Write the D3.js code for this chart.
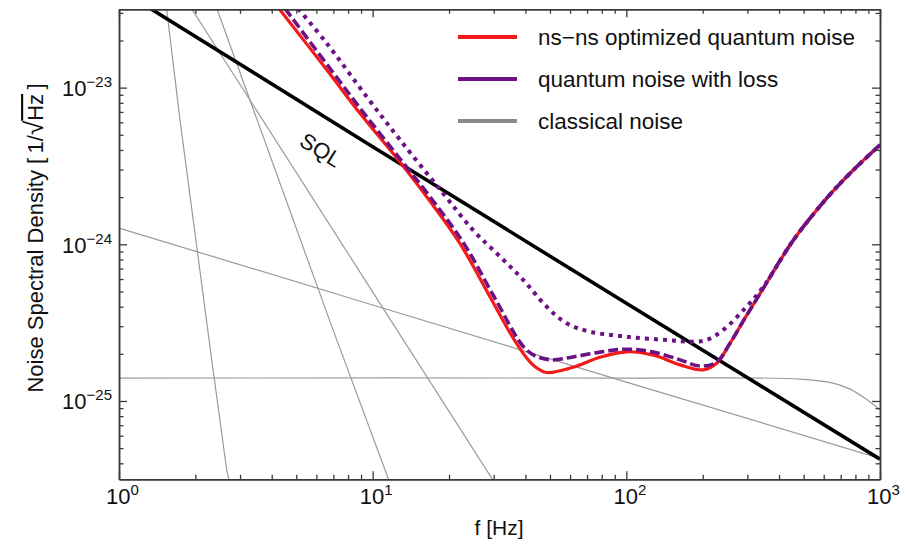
<!DOCTYPE html>
<html>
<head>
<meta charset="utf-8">
<script src="https://cdn.jsdelivr.net/npm/d3@7"></script>
<style>
  body { margin: 0; background: #fff; }
  text { font-family: "Liberation Sans", Arial, Helvetica, sans-serif; fill: #111; }
</style>
</head>
<body>
<svg id="chart"></svg>
<script>
// chart values as [frequency in Hz, noise in 1/sqrt(Hz)]

const optimizedQuantum = [
  [4.27, 3.2e-23], [6.59, 1.30e-23], [8.91, 6.86e-24], [12.62, 3.45e-24], [16.33, 2.01e-24],
  [22.1, 1.01e-24], [29.0, 4.63e-25], [34.8, 2.72e-25], [39.9, 1.94e-25], [43.6, 1.66e-25],
  [48.5, 1.52e-25], [61.6, 1.64e-25], [78.7, 1.90e-25], [100, 2.06e-25], [128, 1.96e-25],
  [163, 1.70e-25], [201, 1.58e-25], [227, 1.74e-25], [256, 2.33e-25], [294, 3.39e-25],
  [337, 4.86e-25], [455, 1.06e-24], [617, 1.97e-24], [762, 2.84e-24], [1000, 4.31e-24]
];

const quantumWithLoss = [
  [4.51, 3.2e-23], [6.85, 1.30e-23], [9.24, 6.86e-24], [12.93, 3.45e-24], [16.83, 2.01e-24],
  [22.9, 1.01e-24], [30.1, 4.63e-25], [39.3, 2.22e-25], [44.3, 1.92e-25], [51.4, 1.83e-25],
  [61.6, 1.91e-25], [78.7, 2.05e-25], [100, 2.14e-25], [128, 2.05e-25], [163, 1.83e-25],
  [195, 1.67e-25], [227, 1.77e-25], [256, 2.33e-25], [294, 3.39e-25], [337, 4.86e-25],
  [455, 1.06e-24], [617, 1.97e-24], [762, 2.84e-24], [1000, 4.31e-24]
];

const quantumWithMoreLoss = [
  [5.08, 3.2e-23], [6.59, 1.92e-23], [9.47, 8.75e-24], [12.82, 4.64e-24], [18.71, 2.17e-24],
  [24.9, 1.23e-24], [31.8, 8.34e-25], [39.3, 5.91e-25], [48.5, 4.00e-25], [58.2, 3.13e-25],
  [71.9, 2.77e-25], [100, 2.57e-25], [144, 2.45e-25], [184, 2.39e-25], [207, 2.45e-25],
  [241, 2.84e-25], [298, 4.00e-25], [347, 5.36e-25], [455, 1.06e-24], [617, 1.97e-24],
  [762, 2.84e-24], [1000, 4.31e-24]
];

const sqlLine = [[1.3, 3.27e-23], [10, 4.2e-24], [100, 4.2e-25], [1000, 4.25e-26]];

// classical noise terms (thin gray)
const flatNoise = [[1, 1.4e-25], [100, 1.4e-25], [484, 1.38e-25], [653, 1.30e-25], [762, 1.19e-25], [881, 1.03e-25], [1000, 8.8e-26]];
const slopeNoise = [[1, 1.27e-24], [10, 4.1e-25], [100, 1.32e-25], [1000, 4.3e-26]];
const steepNoiseA = [[1.54, 3.2e-23], [1.74, 6.2e-24], [2.32, 1.83e-25], [2.66, 3.6e-26], [2.72, 3.1e-26]];
const steepNoiseB = [[2.43, 3.2e-23], [6.79, 3.21e-25], [11.6, 3.1e-26]];
const steepNoiseC = [[1.93, 3.2e-23], [10.7, 4.18e-25], [29.9, 3.1e-26]];

const legendLabels = ["ns\u2212ns optimized quantum noise", "quantum noise with loss", "classical noise"];
const xTickExps = ["0", "1", "2", "3"];
const yTickExps = ["\u221225", "\u221224", "\u221223"];

// layout
const svgWidth = 906, svgHeight = 546;
const margin = {top: 9.3, right: 26, bottom: 66.7, left: 119},
    width = svgWidth - margin.left - margin.right,
    height = svgHeight - margin.top - margin.bottom;

const axisColor = "#3a3a3a";
const red = "#f41a1a", purple = "#6c1285", gray = "#9a9a9a";

const chart = d3.select("#chart")
    .attr("width", svgWidth)
    .attr("height", svgHeight);

const inner = chart.append("g")
    .attr("transform", "translate(" + margin.left + "," + margin.top + ")");

const xScale = d3.scaleLog().domain([1, 1000]).range([0, width]);
const yScale = d3.scaleLog().domain([Math.pow(10, -25.5), Math.pow(10, -22.5)]).range([height, 0]);

// tick values
const xMajor = xTickExps.map(e => Math.pow(10, +e));
const xMinor = [];
[1, 10, 100].forEach(d => { for (let k = 2; k <= 9; k++) xMinor.push(d * k); });
const yMajor = yTickExps.map(e => Math.pow(10, +e.replace("\u2212", "-")));
const yMinor = [];
[-26, -25, -24, -23].forEach(p => {
    for (let k = 2; k <= 9; k++) {
        const v = k * Math.pow(10, p);
        if (v > yScale.domain()[0] && v < yScale.domain()[1]) yMinor.push(v);
    }
});

inner.append("clipPath").attr("id", "plotClip")
    .append("rect").attr("width", width).attr("height", height);

const plot = inner.append("g").attr("clip-path", "url(#plotClip)");

const straight = d3.line()
    .x(d => xScale(d[0]))
    .y(d => yScale(d[1]));

const smooth = d3.line()
    .x(d => xScale(d[0]))
    .y(d => yScale(d[1]))
    .curve(d3.curveCatmullRom.alpha(0.5));

// classical noise
[flatNoise, slopeNoise, steepNoiseA, steepNoiseB, steepNoiseC].forEach(s => {
    plot.append("path")
        .datum(s)
        .attr("d", s === flatNoise ? smooth : straight)
        .attr("fill", "none")
        .attr("stroke", gray)
        .attr("stroke-width", 1.2);
});

// standard quantum limit
plot.append("path")
    .datum(sqlLine)
    .attr("d", straight)
    .attr("fill", "none")
    .attr("stroke", "#000")
    .attr("stroke-width", 3.6);

// quantum curves
plot.append("path")
    .datum(optimizedQuantum)
    .attr("d", smooth)
    .attr("fill", "none")
    .attr("stroke", red)
    .attr("stroke-width", 3.2);

plot.append("path")
    .datum(quantumWithLoss)
    .attr("d", smooth)
    .attr("fill", "none")
    .attr("stroke", purple)
    .attr("stroke-width", 3.6)
    .attr("stroke-dasharray", "10,4");

plot.append("path")
    .datum(quantumWithMoreLoss)
    .attr("d", smooth)
    .attr("fill", "none")
    .attr("stroke", purple)
    .attr("stroke-width", 4)
    .attr("stroke-dasharray", "4,5");

// SQL label along the line
plot.append("text")
    .attr("transform", "translate(" + xScale(6.24) + "," + yScale(4.0e-24) + ") rotate(32)")
    .attr("text-anchor", "middle")
    .attr("dy", "0.35em")
    .attr("font-size", 22)
    .text("SQL");

// axes: major and minor ticks pointing inward on all four sides
function styleAxis(g) {
    g.select(".domain").attr("stroke", axisColor).attr("stroke-width", 1.5);
    g.selectAll(".tick line").attr("stroke", axisColor).attr("stroke-width", 1.3);
    return g;
}

function addAxis(axisFn, scale, values, size, transform) {
    const ax = axisFn(scale).tickValues(values).tickSize(-size).tickSizeOuter(0).tickFormat("");
    const g = inner.append("g").attr("transform", transform).call(ax);
    styleAxis(g);
    return g;
}

addAxis(d3.axisBottom, xScale, xMinor, 4.5, "translate(0," + height + ")");
const xAxisG = addAxis(d3.axisBottom, xScale, xMajor, 8, "translate(0," + height + ")");
addAxis(d3.axisTop, xScale, xMinor, 4.5, "translate(0,0)");
addAxis(d3.axisTop, xScale, xMajor, 8, "translate(0,0)");
addAxis(d3.axisLeft, yScale, yMinor, 4.5, "translate(0,0)");
const yAxisG = addAxis(d3.axisLeft, yScale, yMajor, 8, "translate(0,0)");
addAxis(d3.axisRight, yScale, yMinor, 4.5, "translate(" + width + ",0)");
addAxis(d3.axisRight, yScale, yMajor, 8, "translate(" + width + ",0)");

// power-of-ten tick labels
xAxisG.selectAll(".tick text").each(function(d, i) {
    const t = d3.select(this)
        .attr("y", 17)
        .attr("dy", "0.35em")
        .attr("x", 3)
        .attr("text-anchor", "middle")
        .attr("font-size", 22)
        .attr("fill", "#111")
        .text(null);
    t.append("tspan").text("10");
    t.append("tspan").attr("dy", -9).attr("font-size", 15).text(xTickExps[i]);
});

yAxisG.selectAll(".tick text").each(function(d, i) {
    const t = d3.select(this)
        .attr("x", -7)
        .attr("dy", "0.35em")
        .attr("text-anchor", "end")
        .attr("font-size", 22)
        .attr("fill", "#111")
        .text(null);
    t.append("tspan").text("10");
    t.append("tspan").attr("dy", -9).attr("font-size", 15).text(yTickExps[i]);
});

// axis titles
chart.append("text")
    .attr("x", 499)
    .attr("y", 535)
    .attr("text-anchor", "middle")
    .attr("font-size", 21)
    .text("f [Hz]");

const yTitle = chart.append("text")
    .attr("transform", "translate(43,238) rotate(-90)")
    .attr("text-anchor", "middle")
    .attr("font-size", 22);
yTitle.append("tspan").text("Noise Spectral Density [\u20091/");
yTitle.append("tspan").attr("font-size", 26).text("\u221A");
yTitle.append("tspan").style("text-decoration", "overline").text("Hz");
yTitle.append("tspan").text("\u2009]");

// legend
const legendColors = [red, purple, "#8a8a8a"];
const legend = chart.append("g");
legendLabels.forEach((label, i) => {
    const yy = 37 + i * 42;
    legend.append("line")
        .attr("x1", 458).attr("x2", 517)
        .attr("y1", yy).attr("y2", yy)
        .attr("stroke", legendColors[i])
        .attr("stroke-width", 4);
    legend.append("text")
        .attr("x", 538).attr("y", yy)
        .attr("dy", "0.35em")
        .attr("font-size", 22.5)
        .text(label);
});
</script>
</body>
</html>
